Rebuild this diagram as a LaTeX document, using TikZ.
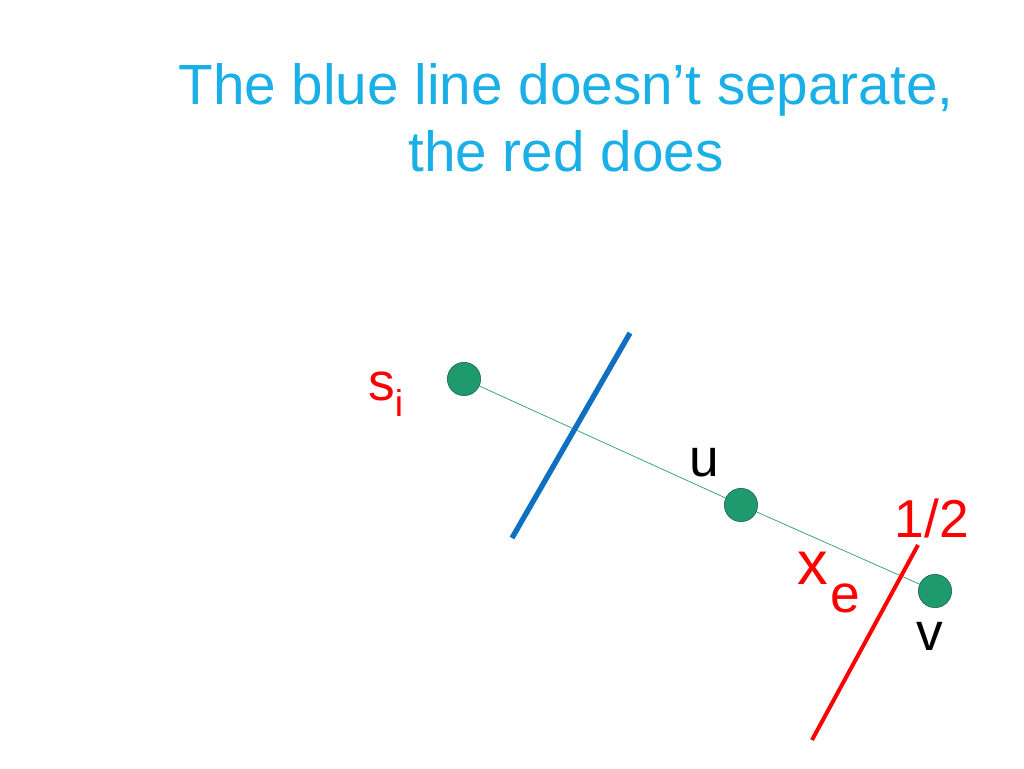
\documentclass[tikz,border=0pt]{standalone}
\usepackage{fontspec}
\setmainfont{Liberation Sans}
\definecolor{ttl}{HTML}{1AAFE6}
\definecolor{dot}{HTML}{1E9A6E}
\definecolor{bl}{HTML}{0F6FC0}
\begin{document}
\begin{tikzpicture}[x=0.75pt,y=-0.75pt,
  pt/.style={circle,draw=dot!60!black,fill=dot,minimum size=25pt,inner sep=0pt},
  lbl/.style={font=\fontsize{40}{46}\selectfont}]
\useasboundingbox (0,0) rectangle (1024,768);
\node[text=ttl,font=\fontsize{42.5}{50}\selectfont,align=center] (t) at (566,118) {The blue line doesn’t separate,\\the red does};
\node[pt] (s) at (464,379) {};
\node[pt] (u) at (741,505) {};
\node[pt] (v) at (935,591) {};
\draw[dot,line width=0.5pt] (s) -- (u) -- (v);
\coordinate (b1) at (630,333); \coordinate (b2) at (512,538);
\draw[bl,line width=4pt] (b1) -- (b2);
\coordinate (r1) at (918,545); \coordinate (r2) at (812,740);
\draw[red,line width=3pt] (r1) -- (r2);
\node[lbl,text=red] (sl) at (386,394) {s\textsubscript{i}};
\node[lbl] (ul) at (704,463) {u};
\node[lbl,text=red] (hl) at (932,518) {1/2};
\node[lbl,text=red,font=\fontsize{46}{50}\selectfont] (xl) at (813,568) {x};
\node[lbl,text=red] (el) at (845,598) {e};
\node[lbl] (vl) at (930,636) {v};
\end{tikzpicture}
\end{document}
